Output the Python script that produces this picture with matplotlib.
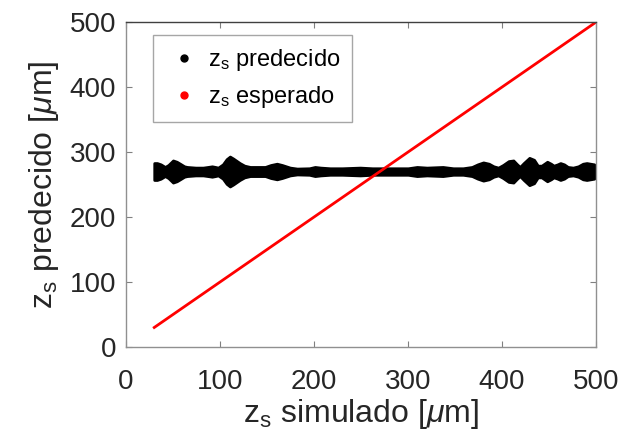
import matplotlib
matplotlib.use('Agg')
import matplotlib.pyplot as plt
from matplotlib.lines import Line2D
import numpy as np

plt.rcParams['font.family'] = ['Liberation Sans', 'DejaVu Sans']
plt.rcParams['mathtext.fontset'] = 'custom'
plt.rcParams['mathtext.rm'] = 'Liberation Sans'
plt.rcParams['mathtext.it'] = 'Liberation Sans:italic'

# predicted z_s: band centre and half-width
band_x = [30, 33, 37, 41.5, 45, 50, 54, 57.5, 62, 65, 74, 82, 87, 91.5, 95, 98,
          103, 107, 110.5, 114, 118, 121, 126, 132, 140, 148, 154, 160.5, 166,
          174.5, 182, 195, 201, 207, 217, 230, 249, 262, 281, 300, 309.5, 320,
          337, 348, 358.5, 368, 374, 380, 386, 391, 396, 401, 407, 412, 416,
          419, 423, 429, 434, 438, 442, 448, 452, 455, 459, 462, 466, 470,
          475.5, 481, 486, 490, 494, 498]
band_half = [13, 13, 11, 7, 10, 17, 15, 12, 8, 7, 6, 6, 7, 8, 7, 6,
             11, 19, 23, 20, 16, 13, 9, 7, 7, 7, 10, 12, 10,
             6, 4.5, 5, 7, 6, 5, 5, 6, 5, 5, 5, 7, 6,
             7, 5, 5, 7, 11, 14, 12, 8, 6, 10, 16, 17, 11,
             7, 13, 21, 18, 9, 9, 15, 12, 9, 11, 13, 11, 7,
             6, 8, 12, 13, 12, 11]
band_centre = 270

# expected z_s (identity)
exp_x = [30, 500]
exp_y = [30, 500]

bx = np.array(band_x)
bh = np.array(band_half)

fig = plt.figure(figsize=(6.19, 4.41), dpi=100)
ax = fig.add_axes([0.2036, 0.2132, 0.7594, 0.7368])

ax.fill_between(bx, band_centre - bh, band_centre + bh, color='black', lw=2,
                edgecolor='black', joinstyle='round')
ax.plot(exp_x, exp_y, color='red', lw=2)

ax.set_xlim(0, 500)
ax.set_ylim(0, 500)
ax.set_xticks([0, 100, 200, 300, 400, 500])
ax.set_yticks([0, 100, 200, 300, 400, 500])
ax.tick_params(direction='in', length=4, labelsize=20, colors='#808080',
               labelcolor='#262626', top=True, right=True, pad=7)
ax.tick_params(axis='x', pad=16)
for s in ax.spines.values():
    s.set_color('#909090')
    s.set_linewidth(1)
ax.spines['top'].set_color('#404040')

ax.set_xlabel(r'z$_{\rm s}$ simulado [$\mu$m]', fontsize=23, color='#262626', labelpad=1)
ax.set_ylabel(r'z$_{\rm s}$ predecido [$\mu$m]', fontsize=23, color='#262626', labelpad=6)

handles = [Line2D([], [], ls='', marker='o', color='black', markersize=5),
           Line2D([], [], ls='', marker='o', color='red', markersize=5)]
leg = ax.legend(handles, [r'z$_{\rm s}$ predecido', r'z$_{\rm s}$ esperado'],
                loc='upper left', bbox_to_anchor=(0.033, 0.995), fontsize=17,
                fancybox=False, edgecolor='#909090', handletextpad=0.2,
                handlelength=1.6, borderpad=0.5, labelspacing=0.45)
leg.get_frame().set_linewidth(1)

fig.savefig('out.png', dpi=100)
